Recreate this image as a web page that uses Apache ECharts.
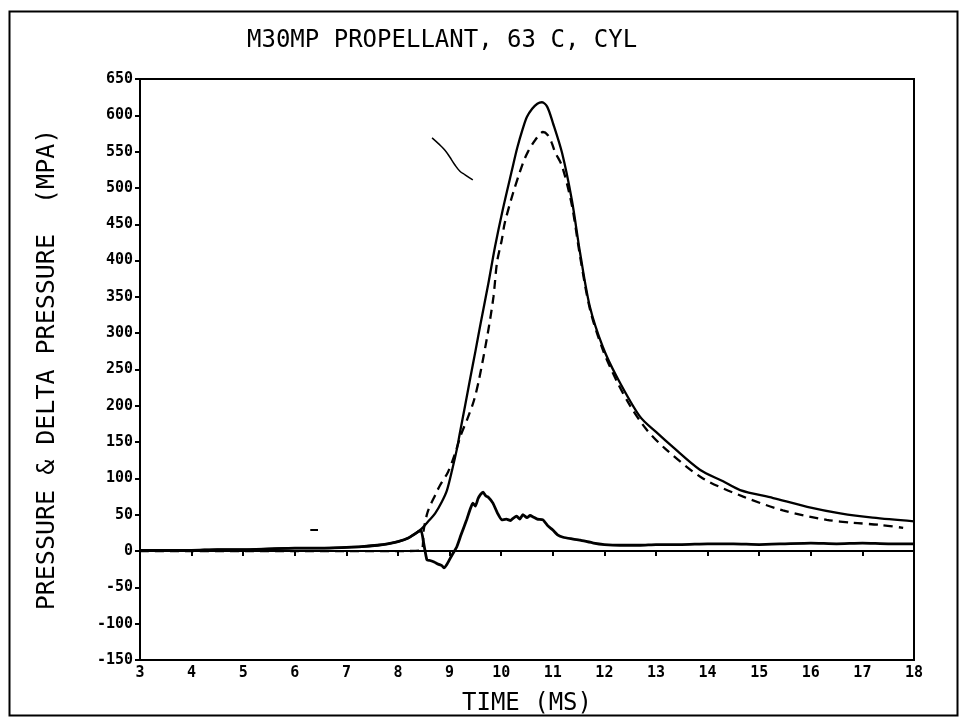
<!DOCTYPE html>
<html>
<head>
<meta charset="utf-8">
<script src="https://cdn.jsdelivr.net/npm/echarts@6/dist/echarts.min.js"></script>
<style>html,body{margin:0;padding:0;background:#fff}#c{width:960px;height:725px}</style>
</head>
<body>
<div id="c"></div>
<script>
// ---- data ----
var titleText = 'M30MP PROPELLANT, 63 C, CYL';
var xName = 'TIME (MS)';
var yName = 'PRESSURE & DELTA PRESSURE  (MPA)';

var pressT = [3, 3.5, 4, 4.5, 5, 5.5, 6, 6.5, 7, 7.3, 7.6, 7.8, 8.0, 8.2, 8.43, 8.6, 8.72, 8.85, 8.95, 9.05, 9.14, 9.2, 9.3, 9.4, 9.5, 9.6, 9.75, 9.88, 10.03, 10.21, 10.31, 10.42, 10.5, 10.6, 10.7, 10.79, 10.89, 11.0, 11.18, 11.37, 11.53, 11.72, 11.97, 12.24, 12.69, 13.0, 13.33, 13.85, 14.3, 14.63, 15.27, 15.93, 16.57, 17.2, 18];
var pressV = [1, 1, 1, 2, 2, 3, 4, 4, 5, 6, 8, 10, 13, 18, 29, 42, 52, 68, 84, 112, 140, 163, 200, 238, 275, 313, 368, 419, 470, 525, 555, 582, 598, 609, 616, 618, 612, 590, 548, 483, 410, 336, 281, 240, 185, 164, 143, 112, 96, 84, 73, 61, 52, 46, 41];

var dashT = [3, 4, 5, 6, 7, 8, 8.45, 8.5, 8.58, 8.72, 8.81, 8.97, 9.1, 9.22, 9.35, 9.47, 9.57, 9.74, 9.85, 9.92, 10.01, 10.07, 10.23, 10.42, 10.52, 10.66, 10.81, 10.9, 10.98, 11.04, 11.18, 11.37, 11.53, 11.72, 11.97, 12.24, 12.5, 12.82, 13.21, 13.91, 14.69, 15.46, 16.31, 16.82, 17.34, 17.79];
var dashV = [0, 0, 0, 0, 0, 0, 1, 30, 55, 77, 90, 109, 133, 160, 183, 207, 236, 300, 350, 398, 428, 452, 493, 534, 550, 566, 577, 573, 562, 550, 530, 476, 405, 333, 277, 234, 200, 167, 139, 100, 75, 56, 43, 39, 36, 32];

var deltaT = [3, 3.5, 4, 4.5, 5, 5.5, 6, 6.5, 7, 7.3, 7.6, 7.8, 8.0, 8.2, 8.4, 8.45, 8.5, 8.56, 8.62, 8.7, 8.78, 8.85, 8.89, 8.95, 9.05, 9.14, 9.22, 9.33, 9.4, 9.45, 9.5, 9.55, 9.6, 9.65, 9.7, 9.75, 9.84, 9.93, 10.01, 10.1, 10.18, 10.23, 10.3, 10.36, 10.42, 10.5, 10.56, 10.62, 10.7, 10.81, 10.9, 11.0, 11.1, 11.2, 11.35, 11.53, 11.79, 12.0, 12.3, 12.7, 13, 13.5, 14, 14.5, 15, 15.5, 16, 16.5, 17, 17.5, 18];
var deltaV = [1, 1, 1, 2, 2, 3, 4, 4, 5, 6, 8, 10, 13, 18, 27, 28, 10, -12, -13, -15, -18, -20, -23, -18, -5, 6, 22, 43, 58, 66, 62, 72, 78, 81, 76, 74, 66, 52, 43, 44, 42, 45, 48, 44, 50, 46, 49, 47, 44, 43, 35, 29, 22, 19, 17, 15, 11, 9, 8, 8, 9, 9, 10, 10, 9, 10, 11, 10, 11, 10, 10];

// stray pen marks on the original plot
var strokeT = [8.66, 8.8, 8.91, 9.0, 9.1, 9.2, 9.3, 9.45];
var strokeV = [569, 560, 552, 543, 532, 523, 518, 511];
var smudgeT = [6.3, 6.45];
var smudgeV = [29, 29];

var xMin = 3, xMax = 18, xStep = 1;
var yMin = -150, yMax = 650, yStep = 50;

function zip(a, b) { return a.map(function (v, i) { return [v, b[i]]; }); }

var chart = echarts.init(document.getElementById('c'), null, { renderer: 'canvas' });
var mono = 'DejaVu Sans Mono';
chart.setOption({
  backgroundColor: '#fff',
  animation: false,
  title: {
    text: titleText, left: 242, top: 24,
    textStyle: { fontFamily: mono, fontSize: 24, fontWeight: 'normal', color: '#000' }
  },
  graphic: [{
    type: 'rect', left: 7, top: 9, shape: { width: 948, height: 704 },
    style: { fill: 'none', stroke: '#000', lineWidth: 2 }, silent: true
  }],
  grid: { left: 140, right: 46, top: 79, bottom: 65, show: true, borderColor: '#000', borderWidth: 2 },
  xAxis: {
    type: 'value', min: xMin, max: xMax, interval: xStep,
    name: xName, nameLocation: 'middle', nameGap: 32,
    nameTextStyle: { fontFamily: mono, fontSize: 24, color: '#000' },
    axisLine: { lineStyle: { color: '#000', width: 2 } },
    axisTick: { inside: false, length: 5, lineStyle: { color: '#000', width: 2 } },
    axisLabel: { fontFamily: mono, fontSize: 15, fontWeight: 'bold', color: '#000', margin: 6 },
    splitLine: { show: false }
  },
  yAxis: {
    type: 'value', min: yMin, max: yMax, interval: yStep,
    name: yName, nameLocation: 'middle', nameGap: 80,
    nameTextStyle: { fontFamily: mono, fontSize: 25, color: '#000' },
    axisLine: { lineStyle: { color: '#000', width: 2 } },
    axisTick: { inside: false, length: 5, lineStyle: { color: '#000', width: 2 } },
    axisLabel: { fontFamily: mono, fontSize: 15, fontWeight: 'bold', color: '#000', margin: 7 },
    splitLine: { show: false }
  },
  series: [
    { name: 'Pressure', type: 'line', data: zip(pressT, pressV), showSymbol: false, smooth: 0.3,
      lineStyle: { color: '#000', width: 2.3 } },
    { name: 'Pressure 2', type: 'line', data: zip(dashT, dashV), showSymbol: false, smooth: 0.3,
      lineStyle: { color: '#000', width: 2.3, type: [9, 6] } },
    { name: 'Delta Pressure', type: 'line', data: zip(deltaT, deltaV), showSymbol: false, smooth: 0.15,
      lineStyle: { color: '#000', width: 2.8 } },
    { name: 'stroke', type: 'line', data: zip(strokeT, strokeV), showSymbol: false, smooth: 0.4,
      lineStyle: { color: '#000', width: 1.5 } },
    { name: 'smudge', type: 'line', data: zip(smudgeT, smudgeV), showSymbol: false,
      lineStyle: { color: '#000', width: 2 } }
  ]
});
</script>
</body>
</html>
